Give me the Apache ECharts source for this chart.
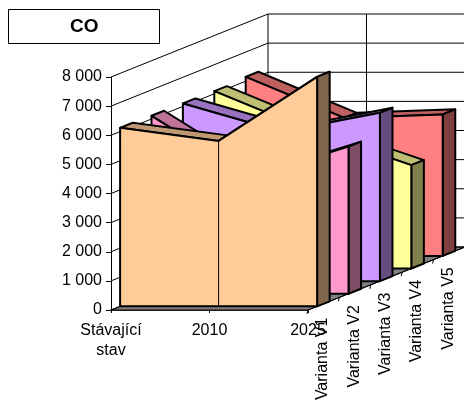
<!DOCTYPE html>
<html>
<head>
<meta charset="utf-8">
<style>html,body{margin:0;padding:0;background:#fff}#chart{width:464px;height:402px}</style>
<script src="https://cdn.jsdelivr.net/npm/echarts@6/dist/echarts.min.js"></script>
</head>
<body>
<div id="chart"></div>
<script>
// CO emissions by scenario: three time points, five variants, drawn as a 3D area chart
const categories = ['Stávající\nstav', '2010', '2025'];
const variantLabels = ['Varianta V1', 'Varianta V2', 'Varianta V3', 'Varianta V4', 'Varianta V5'];
const valuesV1 = [6130, 5680, 7880];
const valuesV2 = [6110, 4000, 5050];
const valuesV3 = [6100, 5130, 5780];
const valuesV4 = [6090, 4700, 3550];
const valuesV5 = [6150, 4740, 4860];
const yTicks = [0, 1000, 2000, 3000, 4000, 5000, 6000, 7000, 8000];

const allValues = [valuesV1, valuesV2, valuesV3, valuesV4, valuesV5];
const faceFront = ['#FFCC99', '#FF99CC', '#CC99FF', '#FFFF99', '#FF8080'];
const faceTop = ['#BF9973', '#BF7399', '#9973BF', '#BFBF73', '#BF6060'];
const faceSide = ['#80664D', '#804D66', '#664D80', '#80804D', '#804040'];

// Oblique projection of the depth axis, in pixels for the full depth of the box
const DEPTH_X = 157, DEPTH_Y = -63;
const SLAB_FRONT = 0.29, SLAB_BACK = 0.69;

function shifted(pt, depth) {
  return [pt[0] + DEPTH_X * depth, pt[1] + DEPTH_Y * depth];
}

function renderWalls(params, api) {
  if (params.dataIndex !== 0) return null;
  const line = (a, b) => ({
    type: 'line',
    shape: { x1: a[0], y1: a[1], x2: b[0], y2: b[1] },
    style: { stroke: '#000', lineWidth: 1 }
  });
  const children = [];
  const o = api.coord([0, 0]), e = api.coord([2, 0]);
  children.push({
    type: 'polygon',
    shape: { points: [o, e, shifted(e, 1), shifted(o, 1)] },
    style: { fill: '#808080', stroke: '#000', lineWidth: 1 }
  });
  yTicks.forEach(v => {
    const l = api.coord([0, v]), r = api.coord([2, v]);
    children.push(line(l, shifted(l, 1)));
    children.push(line(shifted(l, 1), shifted(r, 1)));
  });
  [0, 1, 2].forEach(c => {
    children.push(line(shifted(api.coord([c, 0]), 1), shifted(api.coord([c, 8000]), 1)));
  });
  children.push(line(e, shifted(e, 1)));
  variantLabels.forEach((name, i) => {
    const t = shifted(e, i / 5);
    children.push(line(t, [t[0] - 1, t[1] + 4]));
    const c = shifted(e, (i + 0.5) / 5);
    children.push({
      type: 'text',
      x: c[0] - 1,
      y: c[1] + 14,
      rotation: Math.PI / 2,
      z2: 5,
      style: {
        text: name, fill: '#000',
        font: '16px "Liberation Sans", Arial, sans-serif',
        align: 'right', verticalAlign: 'middle'
      }
    });
  });
  return { type: 'group', children };
}

function renderSlab(idx) {
  return function (params, api) {
    if (params.dataIndex !== 0) return null;
    const vals = allValues[idx];
    const d0 = (idx + SLAB_FRONT) / 5, d1 = (idx + SLAB_BACK) / 5;
    const frontTop = vals.map((v, c) => shifted(api.coord([c, v]), d0));
    const backTop = vals.map((v, c) => shifted(api.coord([c, v]), d1));
    const frontBase = vals.map((v, c) => shifted(api.coord([c, 0]), d0));
    const backBase = vals.map((v, c) => shifted(api.coord([c, 0]), d1));
    const poly = (points, fill, lw) => ({
      type: 'polygon',
      shape: { points },
      style: { fill, stroke: '#000', lineWidth: lw, lineJoin: 'round' }
    });
    const children = [];
    for (let c = 0; c < vals.length - 1; c++) {
      children.push(poly([frontTop[c], frontTop[c + 1], backTop[c + 1], backTop[c]], faceTop[idx], 2));
    }
    const last = vals.length - 1;
    children.push(poly([frontTop[last], backTop[last], backBase[last], frontBase[last]], faceSide[idx], 2));
    children.push(poly([frontBase[0]].concat(frontTop, [frontBase[last]]), faceFront[idx], 2));
    children.push({
      type: 'line',
      shape: { x1: frontTop[1][0], y1: frontTop[1][1], x2: frontBase[1][0], y2: frontBase[1][1] },
      style: { stroke: '#000', lineWidth: 1 }
    });
    return { type: 'group', children };
  };
}

const slabSeries = [4, 3, 2, 1, 0].map(idx => ({
  type: 'custom',
  name: variantLabels[idx],
  renderItem: renderSlab(idx),
  encode: { x: 0, y: 1 },
  data: allValues[idx].map((v, c) => [c, v]),
  silent: true
}));

const chart = echarts.init(document.getElementById('chart'), null, { renderer: 'canvas' });
chart.setOption({
  animation: false,
  backgroundColor: '#fff',
  title: {
    text: 'CO',
    left: 65,
    top: 12,
    textStyle: { fontFamily: '"Liberation Sans", Arial, sans-serif', fontSize: 19, fontWeight: 'bold', color: '#000' }
  },
  graphic: [{
    type: 'rect',
    shape: { x: 8.5, y: 9.5, width: 151, height: 34 },
    style: { fill: 'none', stroke: '#000', lineWidth: 1 },
    z: 1
  }],
  grid: { left: 111, top: 77, width: 197, height: 233 },
  xAxis: {
    type: 'category',
    data: categories,
    boundaryGap: false,
    axisLine: { lineStyle: { color: '#000', width: 1.5 } },
    axisTick: { length: 3, lineStyle: { color: '#000' } },
    axisLabel: {
      interval: 0, margin: 11, color: '#000', lineHeight: 20,
      fontFamily: '"Liberation Sans", Arial, sans-serif', fontSize: 16,
      showMinLabel: true, showMaxLabel: true
    }
  },
  yAxis: {
    type: 'value',
    min: 0, max: 8000, interval: 1000,
    splitLine: { show: false },
    axisLine: { show: true, lineStyle: { color: '#000', width: 1 } },
    axisTick: { show: true, length: 5, lineStyle: { color: '#000' } },
    axisLabel: {
      margin: 9, color: '#000',
      fontFamily: '"Liberation Sans", Arial, sans-serif', fontSize: 16,
      formatter: v => String(v).replace(/\B(?=(\d{3})+$)/g, ' ')
    }
  },
  series: [{
    type: 'custom',
    name: 'walls',
    renderItem: renderWalls,
    encode: { x: 0, y: 1 },
    data: [[0, 0]],
    silent: true,
    z: 1
  }].concat(slabSeries)
});
</script>
</body>
</html>
